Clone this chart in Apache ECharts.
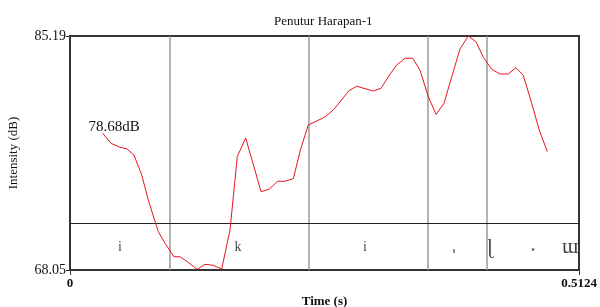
<!DOCTYPE html>
<html>
<head>
<meta charset="utf-8">
<script src="https://cdn.jsdelivr.net/npm/echarts@6/dist/echarts.min.js"></script>
<style>
  html, body { margin: 0; padding: 0; background: #fff; }
  #myChart { width: 600px; height: 307px; }
</style>
</head>
<body>
<div id="myChart"></div>
<script>
  // 强度曲线 (time s, dB)
  var times = [0.0329, 0.0413, 0.0503, 0.0571, 0.0644, 0.0722, 0.0788, 0.0889, 0.0956, 0.1047,
    0.1107, 0.1181, 0.1282, 0.1359, 0.1443, 0.1527, 0.1611, 0.1684, 0.1769, 0.1923,
    0.2006, 0.2091, 0.2164, 0.2248, 0.2322, 0.2399, 0.2567, 0.2651, 0.2809, 0.2886,
    0.3053, 0.3131, 0.3221, 0.3289, 0.3373, 0.3450, 0.3523, 0.3607, 0.3685, 0.3765,
    0.3843, 0.3926, 0.4010, 0.4087, 0.4161, 0.4245, 0.4329, 0.4412, 0.4490, 0.4563,
    0.4648, 0.4724, 0.4805];
  var intensity = [78.06, 77.33, 77.04, 76.93, 76.47, 75.01, 73.18, 70.86, 70.01, 69.02,
    69.02, 68.66, 68.10, 68.47, 68.39, 68.12, 70.98, 76.36, 77.72, 73.79,
    73.98, 74.55, 74.55, 74.74, 76.91, 78.67, 79.26, 79.77, 81.18, 81.51,
    81.16, 81.36, 82.38, 83.07, 83.56, 83.56, 82.70, 80.74, 79.45, 80.26,
    82.21, 84.24, 85.19, 84.77, 83.63, 82.75, 82.41, 82.41, 82.87, 82.31,
    80.26, 78.30, 76.72];

  // 音段边界和标注
  var boundaries = [0.1007, 0.2389, 0.3564, 0.4185];
  var tierLine = 71.51;
  var segLabels = ['i', 'k', 'i', 'ˌ', 'ɭ', 'ˑ', 'ɯ'];
  var segTimes = [0.0503, 0.1691, 0.2970, 0.3866, 0.4228, 0.4661, 0.5034];
  var segSizes = [14, 14, 14, 24, 21, 24, 21];
  var segY = 69.73;

  var yMin = 68.05, yMax = 85.19;
  var xMin = 0, xMax = 0.5124;

  var serif = 'Liberation Serif';
  var myChart = echarts.init(document.getElementById('myChart'));

  var lineData = times.map(function (t, i) { return [t, intensity[i]]; });
  var labelData = segLabels.map(function (s, i) {
    var dy = i === 3 ? -5 : (i === 5 ? 6 : 0);
    return {
      value: [segTimes[i], segY, s],
      label: {
        fontSize: segSizes[i],
        fontWeight: (i === 3 || i === 5) ? 'bold' : 'normal',
        offset: [0, dy]
      }
    };
  });

  var option = {
    animation: false,
    title: {
      text: 'Penutur Harapan-1',
      left: 269,
      top: 10,
      textStyle: { fontFamily: serif, fontSize: 13, fontWeight: 'normal', color: '#111' }
    },
    grid: {
      left: 70, right: 21, top: 36, bottom: 37,
      outerBoundsMode: 'none',
      containLabel: false,
      show: true, borderColor: '#333', borderWidth: 2
    },
    xAxis: {
      type: 'value',
      min: xMin, max: xMax, interval: xMax,
      name: 'Time (s)',
      nameLocation: 'middle',
      nameGap: 23,
      nameTextStyle: { fontFamily: serif, fontSize: 13, fontWeight: 'bold', color: '#111' },
      axisLine: { show: true, lineStyle: { color: '#333', width: 2 } },
      axisTick: { show: true, length: 5, lineStyle: { color: '#333' } },
      axisLabel: {
        fontFamily: serif, fontSize: 13, fontWeight: 'bold', color: '#111', margin: 7,
        formatter: function (v) { return v === 0 ? '0' : '0.5124'; }
      },
      splitLine: { show: false }
    },
    yAxis: {
      type: 'value',
      min: yMin, max: yMax, interval: yMax - yMin,
      name: 'Intensity (dB)',
      nameLocation: 'middle',
      nameGap: 50,
      nameTextStyle: { fontFamily: serif, fontSize: 13, color: '#111' },
      axisLine: { show: true, lineStyle: { color: '#333', width: 2 } },
      axisTick: { show: true, length: 4, lineStyle: { color: '#333' } },
      axisLabel: {
        fontFamily: serif, fontSize: 14, color: '#111', margin: 4,
        formatter: function (v) { return v.toFixed(2); }
      },
      splitLine: { show: false }
    },
    series: [
      {
        name: 'Intensity',
        type: 'line',
        data: lineData,
        symbol: 'none',
        lineStyle: { color: '#e8141c', width: 1 },
        z: 5,
        markLine: {
          silent: true,
          symbol: 'none',
          label: { show: false },
          data: boundaries.map(function (b) {
            return { xAxis: b, lineStyle: { color: '#9a9a9a', width: 1.5, type: 'solid' } };
          }).concat([{ yAxis: tierLine, lineStyle: { color: '#222', width: 1, type: 'solid' } }])
        },
        markPoint: {
          symbol: 'rect', symbolSize: 0,
          label: {
            show: true, position: 'right', distance: 0,
            fontFamily: serif, fontSize: 15, color: '#111',
            formatter: '78.68dB'
          },
          data: [{ coord: [0.0187, 78.52] }]
        }
      },
      {
        name: 'Segments',
        type: 'scatter',
        data: labelData,
        symbolSize: 0,
        silent: true,
        label: {
          show: true, position: 'inside',
          fontFamily: serif, fontSize: 14, color: '#111',
          formatter: function (p) { return p.data.value[2]; }
        }
      }
    ]
  };
  myChart.setOption(option);
</script>
</body>
</html>
